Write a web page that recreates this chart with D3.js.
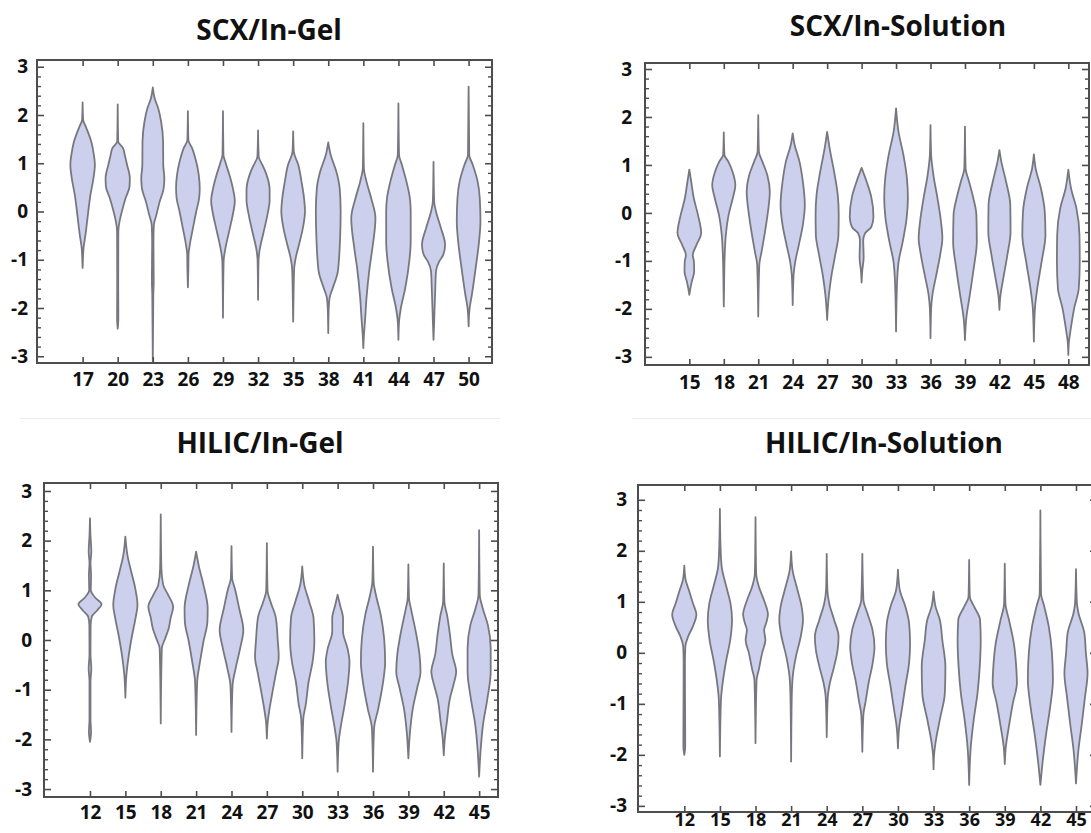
<!DOCTYPE html>
<html>
<head>
<meta charset="utf-8">
<script src="https://cdn.jsdelivr.net/npm/d3@7"></script>
<style>
  html, body { margin: 0; padding: 0; background: #ffffff; }
  svg { display: block; }
</style>
</head>
<body>
<svg id="chart" width="1091" height="833"></svg>
<script>
// ---------------------------------------------------------------
// Data: fraction numbers and violin density profiles.
// Each violin is a list of [log-ratio value, relative density]
// knots, ordered from the top of the distribution to the bottom.
// ---------------------------------------------------------------
const panelTitles = ["SCX/In-Gel", "SCX/In-Solution", "HILIC/In-Gel", "HILIC/In-Solution"];

const yTickValues = [-3, -2, -1, 0, 1, 2, 3];

const scxGelFractions = [17, 20, 23, 26, 29, 32, 35, 38, 41, 44, 47, 50];
const scxSolutionFractions = [15, 18, 21, 24, 27, 30, 33, 36, 39, 42, 45, 48];
const hilicGelFractions = [12, 15, 18, 21, 24, 27, 30, 33, 36, 39, 42, 45];
const hilicSolutionFractions = [12, 15, 18, 21, 24, 27, 30, 33, 36, 39, 42, 45];

const scxGelDensities = [
  [[2.26,0],[1.9,0.07],[1.76,0.29],[1.45,0.68],[1.17,0.87],[0.97,0.94],[0.69,0.84],[0.34,0.62],[-0.07,0.44],[-0.48,0.27],[-0.76,0.13],[-0.9,0.07],[-1.17,0]],
  [[2.22,0],[1.45,0.07],[1.31,0.45],[1.17,0.57],[0.97,0.73],[0.69,0.93],[0.52,0.91],[0.28,0.63],[0,0.36],[-0.2,0.2],[-0.41,0.11],[-1.5,0.08],[-2.2,0.11],[-2.43,0]],
  [[2.57,0],[2.34,0.2],[2.14,0.45],[1.86,0.66],[1.45,0.8],[0.97,0.81],[0.69,0.89],[0.48,0.84],[0.21,0.56],[-0.07,0.32],[-0.28,0.14],[-0.62,0.11],[-1.45,0.13],[-1.72,0.09],[-3.1,0]],
  [[2.08,0],[1.48,0.07],[1.31,0.37],[1.03,0.66],[0.76,0.84],[0.48,0.91],[0.28,0.87],[0,0.66],[-0.34,0.43],[-0.69,0.2],[-0.9,0.11],[-1.17,0.07],[-1.57,0]],
  [[2.08,0],[1.17,0.07],[1.03,0.23],[0.76,0.52],[0.48,0.77],[0.21,0.91],[0,0.81],[-0.34,0.56],[-0.76,0.24],[-1.03,0.11],[-2.2,0]],
  [[1.68,0],[1.14,0.11],[0.93,0.43],[0.8,0.62],[0.45,0.89],[0.24,0.89],[-0.1,0.71],[-0.44,0.45],[-0.79,0.18],[-1.0,0.1],[-1.83,0]],
  [[1.66,0],[1.24,0.11],[0.97,0.43],[0.62,0.66],[0.28,0.84],[0,0.91],[-0.34,0.76],[-0.69,0.48],[-0.97,0.24],[-1.17,0.14],[-1.59,0.1],[-2.28,0]],
  [[1.43,0],[1.17,0.24],[0.83,0.64],[0.48,0.88],[0,0.95],[-0.55,0.91],[-1.24,0.75],[-1.59,0.38],[-1.79,0.16],[-2.0,0.1],[-2.52,0]],
  [[1.83,0],[0.9,0.09],[0.62,0.29],[0.28,0.62],[-0.14,0.93],[-0.34,0.89],[-0.76,0.71],[-1.24,0.48],[-1.79,0.29],[-2.28,0.18],[-2.55,0.11],[-2.83,0]],
  [[2.24,0],[1.17,0.11],[0.97,0.31],[0.62,0.64],[0.28,0.88],[0,0.94],[-0.62,0.94],[-1.03,0.84],[-1.59,0.55],[-2.0,0.24],[-2.28,0.11],[-2.66,0]],
  [[1.03,0],[0.21,0.11],[0,0.24],[-0.34,0.59],[-0.69,0.89],[-0.9,0.76],[-1.03,0.48],[-1.24,0.24],[-1.59,0.19],[-2.0,0.14],[-2.28,0.11],[-2.66,0]],
  [[2.59,0],[1.17,0.11],[0.97,0.36],[0.62,0.71],[0.28,0.86],[-0.2,0.91],[-0.62,0.81],[-1.17,0.57],[-1.72,0.3],[-2.0,0.14],[-2.38,0]]
];

const scxSolutionDensities = [
  [[0.9,0],[0.65,0.2],[0.31,0.38],[-0.04,0.68],[-0.42,0.91],[-0.67,0.57],[-0.88,0.31],[-1.01,0.39],[-1.22,0.41],[-1.43,0.24],[-1.57,0.14],[-1.71,0]],
  [[1.68,0],[1.21,0.11],[1.07,0.39],[0.86,0.69],[0.58,0.89],[0.31,0.71],[-0.04,0.41],[-0.46,0.21],[-0.88,0.13],[-1.22,0.09],[-1.95,0]],
  [[2.04,0],[1.28,0.11],[1.07,0.36],[0.79,0.71],[0.44,0.89],[0.03,0.76],[-0.39,0.55],[-0.81,0.3],[-1.08,0.14],[-2.16,0]],
  [[1.66,0],[1.42,0.2],[1.07,0.55],[0.65,0.79],[0.17,0.93],[-0.25,0.79],[-0.67,0.5],[-1.01,0.25],[-1.29,0.13],[-1.92,0]],
  [[1.69,0],[1.35,0.24],[0.86,0.56],[0.38,0.82],[-0.04,0.89],[-0.46,0.87],[-0.88,0.64],[-1.29,0.38],[-1.71,0.19],[-1.99,0.11],[-2.23,0]],
  [[0.94,0],[0.63,0.45],[0.34,0.75],[-0.08,0.91],[-0.29,0.76],[-0.43,0.3],[-0.57,0.18],[-0.93,0.21],[-1.21,0.11],[-1.45,0]],
  [[2.18,0],[1.69,0.24],[1.21,0.59],[0.72,0.84],[0.31,0.91],[-0.11,0.82],[-0.6,0.54],[-1.01,0.25],[-1.43,0.14],[-2.47,0]],
  [[1.83,0],[1.21,0.11],[0.79,0.27],[0.31,0.56],[-0.18,0.81],[-0.53,0.91],[-0.88,0.75],[-1.29,0.48],[-1.71,0.2],[-1.99,0.11],[-2.61,0]],
  [[1.8,0],[0.93,0.11],[0.65,0.36],[0.31,0.66],[-0.04,0.88],[-0.6,0.91],[-1.15,0.69],[-1.71,0.41],[-2.19,0.16],[-2.65,0]],
  [[1.31,0],[1.07,0.2],[0.65,0.54],[0.17,0.84],[-0.39,0.86],[-0.88,0.63],[-1.43,0.3],[-1.71,0.14],[-2.02,0]],
  [[1.22,0],[0.93,0.19],[0.51,0.57],[0.03,0.84],[-0.46,0.89],[-1.01,0.62],[-1.57,0.31],[-1.99,0.14],[-2.68,0]],
  [[0.9,0],[0.51,0.26],[0.1,0.64],[-0.46,0.86],[-1.01,0.88],[-1.57,0.81],[-1.99,0.48],[-2.47,0.21],[-2.68,0.11],[-2.96,0]]
];

const hilicGelDensities = [
  [[2.45,0],[2.1,0.09],[1.78,0.16],[1.55,0.09],[1.31,0.14],[1.0,0.12],[0.84,0.48],[0.72,0.89],[0.6,0.59],[0.47,0.19],[0.3,0.11],[-0.3,0.09],[-0.57,0.16],[-0.84,0.1],[-1.6,0.09],[-1.85,0.14],[-2.05,0]],
  [[2.08,0],[1.71,0.21],[1.38,0.48],[1.04,0.77],[0.7,0.93],[0.44,0.79],[0.1,0.55],[-0.3,0.31],[-0.7,0.14],[-1.16,0]],
  [[2.53,0],[1.44,0.11],[1.11,0.24],[0.91,0.59],[0.67,0.95],[0.44,0.77],[0.23,0.63],[0.03,0.38],[-0.17,0.14],[-1.68,0]],
  [[1.78,0],[1.51,0.24],[1.11,0.59],[0.64,0.89],[0.37,0.87],[-0.03,0.59],[-0.44,0.34],[-0.84,0.14],[-1.91,0]],
  [[1.89,0],[1.24,0.11],[1.04,0.3],[0.64,0.61],[0.2,0.91],[-0.17,0.68],[-0.57,0.36],[-0.91,0.14],[-1.85,0]],
  [[1.95,0],[1.0,0.11],[0.74,0.36],[0.47,0.69],[0,0.84],[-0.34,0.91],[-0.67,0.71],[-1.07,0.45],[-1.41,0.24],[-1.61,0.14],[-1.98,0]],
  [[1.48,0],[1.11,0.21],[0.77,0.56],[0.44,0.87],[-0.03,0.93],[-0.44,0.8],[-0.84,0.52],[-1.31,0.31],[-1.58,0.14],[-2.38,0]],
  [[0.91,0],[0.7,0.24],[0.44,0.45],[0.17,0.45],[-0.17,0.77],[-0.44,0.91],[-0.84,0.81],[-1.31,0.56],[-1.78,0.27],[-2.05,0.14],[-2.65,0]],
  [[1.88,0],[1.17,0.11],[0.91,0.27],[0.5,0.62],[0.03,0.86],[-0.44,0.93],[-0.91,0.75],[-1.38,0.44],[-1.78,0.14],[-2.65,0]],
  [[1.52,0],[0.84,0.11],[0.64,0.24],[0.17,0.59],[-0.3,0.86],[-0.64,0.93],[-0.97,0.69],[-1.38,0.38],[-1.85,0.18],[-2.38,0]],
  [[1.54,0],[0.77,0.11],[0.5,0.3],[0.1,0.51],[-0.3,0.68],[-0.64,0.95],[-0.91,0.75],[-1.17,0.51],[-1.64,0.29],[-1.98,0.14],[-2.32,0]],
  [[2.21,0],[0.91,0.11],[0.64,0.32],[0.3,0.69],[-0.17,0.89],[-0.64,0.89],[-1.17,0.66],[-1.71,0.34],[-2.18,0.18],[-2.75,0]]
];

const hilicSolutionDensities = [
  [[1.71,0],[1.43,0.16],[1.24,0.38],[0.97,0.68],[0.75,0.93],[0.52,0.68],[0.32,0.34],[0.12,0.14],[-0.2,0.11],[-1.84,0.13],[-2.0,0]],
  [[2.82,0],[2.08,0.11],[1.69,0.19],[1.3,0.52],[0.97,0.82],[0.65,0.93],[0.25,0.8],[-0.14,0.52],[-0.53,0.29],[-0.92,0.14],[-2.03,0]],
  [[2.66,0],[1.56,0.11],[1.3,0.3],[1.04,0.66],[0.75,0.95],[0.58,0.82],[0.45,0.68],[0.25,0.77],[0,0.54],[-0.33,0.3],[-0.53,0.14],[-1.77,0]],
  [[1.99,0],[1.63,0.16],[1.24,0.51],[0.91,0.81],[0.65,0.91],[0.32,0.75],[-0.07,0.41],[-0.46,0.18],[-0.86,0.11],[-2.13,0]],
  [[1.94,0],[1.24,0.11],[0.97,0.24],[0.65,0.59],[0.32,0.91],[0.06,0.84],[-0.27,0.59],[-0.59,0.29],[-0.86,0.14],[-1.65,0]],
  [[1.94,0],[1.04,0.14],[0.78,0.42],[0.45,0.79],[0.12,0.93],[-0.22,0.79],[-0.55,0.54],[-0.95,0.3],[-1.21,0.14],[-1.94,0]],
  [[1.63,0],[1.24,0.19],[0.91,0.59],[0.58,0.86],[0.19,0.93],[-0.2,0.86],[-0.66,0.59],[-1.12,0.34],[-1.44,0.16],[-1.87,0]],
  [[1.2,0],[0.91,0.2],[0.65,0.51],[0.25,0.69],[-0.27,0.91],[-0.79,0.87],[-1.31,0.51],[-1.77,0.2],[-1.97,0.11],[-2.28,0]],
  [[1.82,0],[1.1,0.11],[0.91,0.41],[0.65,0.84],[0.25,0.89],[-0.27,0.82],[-0.79,0.66],[-1.31,0.39],[-1.84,0.18],[-2.59,0]],
  [[1.75,0],[0.97,0.11],[0.65,0.36],[0.19,0.71],[-0.27,0.88],[-0.59,0.93],[-0.99,0.64],[-1.44,0.36],[-1.84,0.14],[-2.18,0]],
  [[2.79,0],[1.17,0.11],[0.91,0.34],[0.52,0.66],[0,0.89],[-0.53,0.96],[-1.05,0.77],[-1.58,0.48],[-2.1,0.24],[-2.59,0]],
  [[1.64,0],[0.97,0.13],[0.78,0.24],[0.39,0.66],[0,0.77],[-0.4,0.89],[-0.86,0.71],[-1.39,0.48],[-1.9,0.24],[-2.56,0]]
];

// ---------------------------------------------------------------
// Layout of the four panels (pixel frames and axis domains).
// ---------------------------------------------------------------
const panelLayouts = [
  { title: panelTitles[0], fractions: scxGelFractions, violins: scxGelDensities,
    left: 37, right: 492, top: 60, bottom: 363,
    xDomain: [13.1, 52.0], yDomain: [-3.14, 3.14],
    titleX: 269, titleY: 40, yLabelPad: 9, xLabelPad: 10, xLabelSize: 19 },
  { title: panelTitles[1], fractions: scxSolutionFractions, violins: scxSolutionDensities,
    left: 645, right: 1089, top: 63, bottom: 365,
    xDomain: [11.14, 49.8], yDomain: [-3.17, 3.125],
    titleX: 898, titleY: 36, yLabelPad: 13, xLabelPad: 11, xLabelSize: 19 },
  { title: panelTitles[2], fractions: hilicGelFractions, violins: hilicGelDensities,
    left: 44, right: 498, top: 483, bottom: 797,
    xDomain: [8.1, 46.6], yDomain: [-3.16, 3.16],
    titleX: 260, titleY: 453, yLabelPad: 12, xLabelPad: 9, xLabelSize: 19 },
  { title: panelTitles[3], fractions: hilicSolutionFractions, violins: hilicSolutionDensities,
    left: 638, right: 1097, top: 485, bottom: 812,
    xDomain: [8.1, 46.77], yDomain: [-3.12, 3.29],
    titleX: 884, titleY: 453, yLabelPad: 11, xLabelPad: 1, xLabelSize: 18 }
];

const FONT = "'Open Sans', 'DejaVu Sans', sans-serif";
const VIOLIN_FILL = "#ccd0ec";
const VIOLIN_STROKE = "#77787f";
const FRAME_STROKE = "#4d4d4d";

const svg = d3.select("#chart");

// faint separator line between the two rows of panels
svg.append("line").attr("x1", 20).attr("x2", 500).attr("y1", 418.5).attr("y2", 418.5)
  .attr("stroke", "#ececec").attr("stroke-width", 1);
svg.append("line").attr("x1", 632).attr("x2", 1091).attr("y1", 418.5).attr("y2", 418.5)
  .attr("stroke", "#ececec").attr("stroke-width", 1);

// half-width of a violin in pixels for a given relative density
const densityWidth = d3.scaleLinear().domain([0, 1]).range([0, 14]);
function halfWidth(d) {
  if (d <= 0) return 0;
  return Math.max(0.5, densityWidth(d) - 0.9);
}

function styleTicks(sel, width) {
  sel.select(".domain").remove();
  sel.selectAll(".tick line").attr("stroke", FRAME_STROKE).attr("stroke-width", width);
}

function drawPanel(p) {
  const g = svg.append("g");
  const x = d3.scaleLinear().domain(p.xDomain).range([p.left, p.right]);
  const y = d3.scaleLinear().domain(p.yDomain).range([p.bottom, p.top]);

  const clipId = "clip-" + p.title.replace(/[^A-Za-z]/g, "");
  g.append("clipPath").attr("id", clipId)
    .append("rect").attr("x", p.left).attr("y", p.top)
    .attr("width", p.right - p.left).attr("height", p.bottom - p.top);

  // violins
  const vg = g.append("g").attr("clip-path", `url(#${clipId})`);
  p.violins.forEach((profile, i) => {
    const cx = x(p.fractions[i]);
    const area = d3.area()
      .curve(d3.curveMonotoneY)
      .y(d => y(d[0]))
      .x0(d => cx - halfWidth(d[1]))
      .x1(d => cx + halfWidth(d[1]));
    vg.append("path")
      .attr("d", area(profile))
      .attr("fill", VIOLIN_FILL)
      .attr("stroke", VIOLIN_STROKE)
      .attr("stroke-width", 1.8)
      .attr("stroke-linejoin", "round");
  });

  // minor and major y ticks on both sides, pointing inwards
  const minorY = d3.range(-15, 16).map(k => k / 5).filter(v => Math.abs(v - Math.round(v)) > 1e-6);
  g.append("g").attr("transform", `translate(${p.left},0)`)
    .call(d3.axisRight(y).tickValues(minorY).tickSize(4).tickFormat(""))
    .call(s => styleTicks(s, 1.4));
  g.append("g").attr("transform", `translate(${p.left},0)`)
    .call(d3.axisRight(y).tickValues(yTickValues).tickSize(7).tickFormat(""))
    .call(s => styleTicks(s, 1.6));
  g.append("g").attr("transform", `translate(${p.right},0)`)
    .call(d3.axisLeft(y).tickValues(minorY).tickSize(4).tickFormat(""))
    .call(s => styleTicks(s, 1.4));
  g.append("g").attr("transform", `translate(${p.right},0)`)
    .call(d3.axisLeft(y).tickValues(yTickValues).tickSize(7).tickFormat(""))
    .call(s => styleTicks(s, 1.6));

  // x ticks on top and bottom edges
  g.append("g").attr("transform", `translate(0,${p.bottom})`)
    .call(d3.axisTop(x).tickValues(p.fractions).tickSize(6).tickFormat(""))
    .call(s => styleTicks(s, 1.6));
  g.append("g").attr("transform", `translate(0,${p.top})`)
    .call(d3.axisBottom(x).tickValues(p.fractions).tickSize(6).tickFormat(""))
    .call(s => styleTicks(s, 1.6));

  // frame
  g.append("rect")
    .attr("x", p.left).attr("y", p.top)
    .attr("width", p.right - p.left).attr("height", p.bottom - p.top)
    .attr("fill", "none").attr("stroke", FRAME_STROKE).attr("stroke-width", 2);

  // tick labels
  const yLab = g.append("g").attr("transform", `translate(${p.left},0)`)
    .call(d3.axisLeft(y).tickValues(yTickValues).tickSize(0).tickPadding(p.yLabelPad)
      .tickFormat(d => String(d)));
  yLab.select(".domain").remove();
  yLab.attr("font-family", FONT).attr("font-size", 19).attr("font-weight", 700);
  yLab.selectAll("text").attr("fill", "#111");

  const xLab = g.append("g").attr("transform", `translate(0,${p.bottom})`)
    .call(d3.axisBottom(x).tickValues(p.fractions).tickSize(0).tickPadding(p.xLabelPad)
      .tickFormat(d => String(d)));
  xLab.select(".domain").remove();
  xLab.attr("font-family", FONT).attr("font-size", p.xLabelSize).attr("font-weight", 700);
  xLab.selectAll("text").attr("fill", "#111");

  // panel title
  g.append("text")
    .attr("x", p.titleX).attr("y", p.titleY)
    .attr("text-anchor", "middle")
    .attr("font-family", FONT).attr("font-size", 28).attr("font-weight", 700)
    .attr("fill", "#111")
    .text(p.title);
}

panelLayouts.forEach(drawPanel);
</script>
</body>
</html>
